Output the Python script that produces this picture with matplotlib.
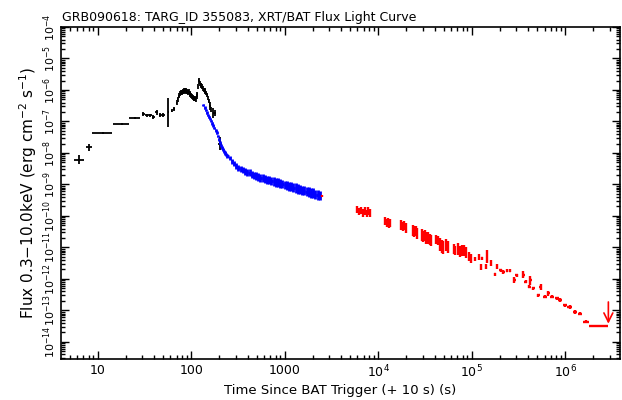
import numpy as np
import matplotlib
matplotlib.use('Agg')
import matplotlib.pyplot as plt
from matplotlib.ticker import LogLocator, FixedLocator, FuncFormatter, NullFormatter

# BAT data (black): time (s), half bin width (s), flux, error (dex)
bat_t = [6.35, 8.07, 11.5, 18.1, 25.1, 30.8, 33.4, 36.3, 39.4, 42.8, 46.5, 50.4,
         56.9, 61.7, 65.4, 70, 72, 74, 76, 78, 80, 82, 84, 86, 88, 90, 92, 94,
         96, 98, 100, 102, 104, 106, 108, 110, 112, 114, 116, 118, 120, 122,
         124, 126, 128, 130, 133, 136, 139, 142, 145, 148, 151, 154, 157, 160,
         163, 172, 180, 203]
bat_terr = [0.8, 0.6, 2.8, 3.7, 3.5, 1.2, 1.2, 1.4, 1.5, 1.6, 1.8, 2.0,
            1.0, 1.2, 1.2, 1, 1, 1, 1, 1, 1, 1, 1, 1, 1, 1, 1, 1,
            1, 1, 1, 1, 1, 1, 1, 1, 1, 1, 1, 1, 1, 1,
            1, 1, 1, 1.5, 1.5, 1.5, 1.5, 1.5, 1.5, 1.5, 1.5, 1.5, 1.5, 1.5,
            1.5, 3, 4, 8]
bat_f = [6.2e-9, 1.5e-8, 4.2e-8, 8.5e-8, 1.26e-7, 1.74e-7, 1.55e-7, 1.55e-7, 1.4e-7,
         1.95e-7, 1.6e-7, 1.62e-7, 1.95e-7, 2.2e-7, 2.5e-7, 4.0e-7, 5.0e-7, 6.6e-7,
         7.8e-7, 8.3e-7, 8.5e-7, 8.9e-7, 9.3e-7, 9.8e-7, 9.3e-7, 8.7e-7, 8.3e-7,
         8.9e-7, 7.9e-7, 7.4e-7, 6.9e-7, 6.0e-7, 5.6e-7, 5.4e-7, 5.2e-7, 5.2e-7,
         5.1e-7, 6.0e-7, 7.4e-7, 1.26e-6, 2.1e-6, 1.8e-6, 1.6e-6, 1.45e-6, 1.38e-6,
         1.28e-6, 1.12e-6, 1.02e-6, 9.5e-7, 8.9e-7, 7.9e-7, 6.9e-7, 5.6e-7, 4.4e-7,
         3.5e-7, 2.8e-7, 2.4e-7, 1.9e-7, 1.9e-7, 2.0e-8]
bat_dex = [0.13, 0.1, 0.03, 0.03, 0.03, 0.06, 0.05, 0.05, 0.06, 0.09, 0.06, 0.07,
           0.47, 0.05, 0.05, 0.08, 0.08, 0.08, 0.08, 0.08, 0.08, 0.08, 0.08, 0.08,
           0.08, 0.08, 0.08, 0.08, 0.08, 0.08, 0.08, 0.08, 0.08, 0.08, 0.08, 0.08,
           0.08, 0.08, 0.08, 0.08, 0.07, 0.07, 0.07, 0.07, 0.07, 0.07, 0.07, 0.07,
           0.07, 0.07, 0.07, 0.07, 0.07, 0.07, 0.07, 0.07, 0.07, 0.16, 0.1, 0.22]

# XRT WT data (blue)
wt_t = [135, 138.7, 142.9, 146.9, 151, 154.9, 158.9, 163.3, 167.9, 172.2, 177, 182,
        187, 191.9, 196.8, 202.3, 208, 213.3, 218.8, 224.9, 231.2, 237.1, 243.8,
        258, 272, 287, 303, 320, 338, 357, 377, 398, 420, 443, 468, 494, 521, 550,
        581, 613, 647, 683, 721, 761, 803, 848, 895, 945, 997, 1053, 1111, 1173,
        1238, 1307, 1380, 1456, 1537, 1623, 1713, 1808, 1909, 2015, 2127, 2245, 2370]
wt_f = [3.31e-7, 2.75e-7, 2.29e-7, 1.91e-7, 1.62e-7, 1.41e-7, 1.20e-7, 1.02e-7, 8.7e-8,
        7.4e-8, 6.3e-8, 5.2e-8, 4.37e-8, 3.47e-8, 2.69e-8, 2.14e-8, 1.74e-8, 1.48e-8,
        1.26e-8, 1.10e-8, 9.8e-9, 8.9e-9, 8.1e-9,
        6.9e-9, 5.5e-9, 4.57e-9, 3.8e-9, 3.39e-9, 3.16e-9,
        2.95e-9, 2.60e-9, 2.45e-9, 2.35e-9, 2.05e-9, 1.95e-9, 1.85e-9, 1.70e-9,
        1.62e-9, 1.58e-9, 1.45e-9, 1.41e-9, 1.38e-9, 1.26e-9, 1.25e-9, 1.15e-9,
        1.13e-9, 1.05e-9, 1.03e-9, 9.6e-10, 9.4e-10, 8.8e-10, 8.6e-10, 8.0e-10,
        7.7e-10, 7.1e-10, 7.0e-10, 6.5e-10, 6.4e-10, 5.9e-10, 5.8e-10, 5.4e-10,
        5.3e-10, 4.8e-10, 4.7e-10, 4.4e-10]
wt_dex = [0.04, 0.04, 0.04, 0.04, 0.04, 0.04, 0.04, 0.04, 0.04, 0.04, 0.04, 0.04,
          0.045, 0.045, 0.045, 0.045, 0.05, 0.05, 0.05, 0.05, 0.06, 0.06, 0.06,
          0.07, 0.08, 0.08, 0.09, 0.09, 0.1, 0.1, 0.1, 0.11, 0.11, 0.11, 0.12,
          0.12, 0.12, 0.12, 0.12, 0.13, 0.13, 0.13, 0.13, 0.13, 0.14, 0.14, 0.14, 0.14,
          0.14, 0.14, 0.14, 0.15, 0.15, 0.15, 0.15, 0.15, 0.15, 0.15, 0.15, 0.15,
          0.15, 0.15, 0.15, 0.15, 0.15]

# XRT PC data (red)
pc_t = [2490,
        5950, 6250, 6550, 6850, 7150, 7500, 7850, 8200,
        11900, 12300, 12700, 13100, 13500,
        17600, 18200, 18900, 19600,
        23500, 24300, 25200, 26000,
        29300, 30300, 31300, 32100,
        34000, 35500, 37000,
        41500, 43500,
        46200, 48000, 49500,
        53500, 56000,
        64000, 67000,
        72000, 75000, 78500,
        82000, 86500,
        93000, 98000,
        108000, 120000, 125000, 128000, 142000, 145000, 161000, 177000, 186000,
        204000, 218000, 237000, 257000, 286000, 302000, 356000, 380000, 413000,
        421000, 456000, 515000, 547000, 608000, 661000, 718000, 811000, 881000,
        995000, 1.11e6, 1.27e6, 1.44e6, 1.67e6, 2.32e6]
pc_terr = [40,
           150, 150, 150, 150, 150, 150, 150, 150,
           200, 200, 200, 200, 200,
           300, 300, 300, 300,
           400, 400, 400, 400,
           450, 450, 450, 450,
           700, 700, 700,
           900, 900,
           800, 800, 800,
           1200, 1200,
           1500, 1500,
           1500, 1500, 1500,
           2000, 2000,
           2500, 2500,
           2500, 3000, 3000, 3000, 3500, 3500, 4000, 5000, 5000,
           6000, 6000, 7000, 7000, 9000, 9000, 12000, 14000, 15000,
           16000, 18000, 20000, 22000, 26000, 30000, 35000, 40000, 45000,
           55000, 60000, 70000, 80000, 135000, 530000]
pc_f = [4.3e-10,
        1.58e-10, 1.38e-10, 1.48e-10, 1.26e-10, 1.41e-10, 1.20e-10, 1.45e-10, 1.26e-10,
        6.8e-11, 6.0e-11, 6.3e-11, 5.6e-11, 5.9e-11,
        5.2e-11, 4.6e-11, 4.9e-11, 4.2e-11,
        3.5e-11, 3.16e-11, 3.3e-11, 2.8e-11,
        2.5e-11, 2.2e-11, 2.35e-11, 2.0e-11,
        2.0e-11, 1.82e-11, 1.66e-11,
        1.82e-11, 1.66e-11,
        1.26e-11, 1.07e-11, 1.0e-11,
        1.2e-11, 1.05e-11,
        8.9e-12, 7.9e-12,
        8.9e-12, 7.6e-12, 7.9e-12,
        7.9e-12, 6.9e-12,
        5.2e-12, 4.4e-12,
        4.3e-12, 5.0e-12, 2.4e-12, 4.5e-12, 2.57e-12, 5.2e-12, 3.2e-12, 1.41e-12, 2.57e-12,
        1.9e-12, 1.66e-12, 1.82e-12, 1.82e-12, 9.1e-13, 1.32e-12, 1.38e-12, 8.1e-13, 5.6e-13,
        9.1e-13, 5.0e-13, 3.0e-13, 5.6e-13, 2.7e-13, 3.5e-13, 2.7e-13, 2.4e-13, 2.14e-13,
        1.48e-13, 1.29e-13, 8.9e-14, 7.9e-14, 4.4e-14, 3.2e-14]
pc_dex = [0.04,
          0.12, 0.12, 0.12, 0.12, 0.12, 0.12, 0.12, 0.12,
          0.13, 0.13, 0.13, 0.13, 0.13,
          0.15, 0.15, 0.15, 0.15,
          0.17, 0.17, 0.17, 0.17,
          0.18, 0.18, 0.18, 0.18,
          0.18, 0.18, 0.18,
          0.15, 0.15,
          0.2, 0.2, 0.2,
          0.2, 0.2,
          0.15, 0.15,
          0.18, 0.18, 0.18,
          0.17, 0.17,
          0.15, 0.15,
          0.05, 0.1, 0.1, 0.05, 0.08, 0.2, 0.1, 0.05, 0.08,
          0.05, 0.05, 0.05, 0.05, 0.1, 0.05, 0.12, 0.05, 0.05,
          0.15, 0.05, 0.05, 0.1, 0.05, 0.08, 0.05, 0.05, 0.05,
          0.05, 0.05, 0.05, 0.05, 0.05, 0.04]

# PC upper limit
ul_t = [2.89e6]
ul_f = [1.86e-13]
ul_tip = [3.8e-14]

y_major = [1e-14, 1e-13, 1e-12, 1e-11, 1e-10, 1e-9, 1e-8, 1e-7, 1e-6, 1e-5, 1e-4]


def yerrs(f, dex):
    f = np.array(f)
    d = np.array(dex)
    return [f * (1 - 10 ** -d), f * (10 ** d - 1)]


plt.rcParams['font.family'] = 'DejaVu Sans'
fig = plt.figure(figsize=(6.22, 4.0), dpi=100)
ax = fig.add_axes([0.0976, 0.1018, 0.8992, 0.8307])

ax.errorbar(bat_t, bat_f, xerr=bat_terr, yerr=yerrs(bat_f, bat_dex),
            fmt='none', ecolor='black', elinewidth=1.3, capsize=0)

# WT bins: edges halfway (in log) between neighbouring points
wt = np.array(wt_t, dtype=float)
mid = np.sqrt(wt[1:] * wt[:-1])
lo = np.concatenate([[wt[0] ** 2 / mid[0]], mid])
hi = np.concatenate([mid, [wt[-1] ** 2 / mid[-1]]])
ax.errorbar(wt_t, wt_f, xerr=[wt - lo, hi - wt], yerr=yerrs(wt_f, wt_dex),
            fmt='none', ecolor='blue', elinewidth=2.0, capsize=0)

ax.errorbar(pc_t, pc_f, xerr=pc_terr, yerr=yerrs(pc_f, pc_dex),
            fmt='none', ecolor='red', elinewidth=1.7, capsize=0)

for t, f, tip in zip(ul_t, ul_f, ul_tip):
    ax.annotate('', xy=(t, tip), xytext=(t, f),
                arrowprops=dict(arrowstyle='->', color='red', lw=1.2,
                                mutation_scale=16, shrinkA=0, shrinkB=0))

ax.set_xscale('log')
ax.set_yscale('log')
ax.set_xlim(4.02, 3.85e6)
ax.set_ylim(10 ** -14.55, 1e-4)


def xfmt(v, pos):
    e = int(round(np.log10(v)))
    if e <= 3:
        return '%d' % round(v)
    return r'$10^{%d}$' % e


def yfmt(v, pos):
    e = int(round(np.log10(v)))
    return r'$10^{%d}$' % e


ax.xaxis.set_major_locator(LogLocator(base=10, numticks=20))
ax.xaxis.set_minor_locator(LogLocator(base=10, subs=np.arange(2, 10), numticks=100))
ax.yaxis.set_major_locator(FixedLocator(y_major))
ax.yaxis.set_minor_locator(LogLocator(base=10, subs=np.arange(2, 10), numticks=100))
ax.xaxis.set_major_formatter(FuncFormatter(xfmt))
ax.yaxis.set_major_formatter(FuncFormatter(yfmt))
ax.xaxis.set_minor_formatter(NullFormatter())
ax.yaxis.set_minor_formatter(NullFormatter())

ax.tick_params(which='both', direction='in', top=True, right=True, width=1.0)
ax.tick_params(axis='x', labelsize=9)
ax.tick_params(axis='y', labelsize=8, labelrotation=90, pad=2)
ax.tick_params(which='major', length=6)
ax.tick_params(which='minor', length=3)
for lab in ax.get_yticklabels():
    lab.set_va('center')
for s in ax.spines.values():
    s.set_linewidth(1.2)

ax.set_xlabel('Time Since BAT Trigger (+ 10 s) (s)', fontsize=9.5, labelpad=2)
ax.set_ylabel(r'Flux 0.3$-$10.0keV (erg cm$^{-2}$ s$^{-1}$)', fontsize=11, labelpad=2)
fig.text(62 / 622, 1 - 17 / 400, 'GRB090618: TARG_ID 355083, XRT/BAT Flux Light Curve',
         fontsize=9, va='center', ha='left')

fig.savefig('out.png', dpi=100)
